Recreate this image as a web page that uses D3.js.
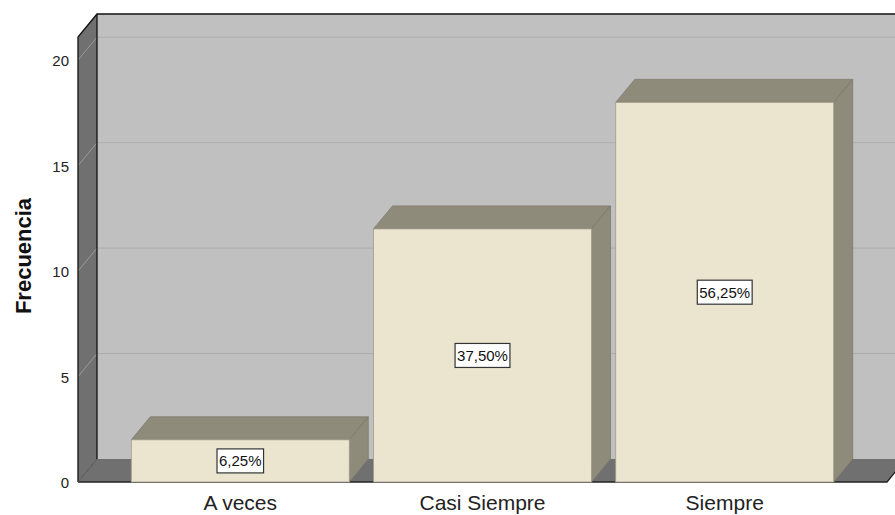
<!DOCTYPE html>
<meta charset="utf-8">
<script src="https://d3js.org/d3.v7.min.js"></script>
<style>
  body { margin: 0; background: #fff; }
  text { font-family: "Liberation Sans", Arial, sans-serif; }
</style>
<div id="chart_area"></div>
<script>
    // chart data
    let categories = ["A veces", "Casi Siempre", "Siempre"];
    let counts = [2, 12, 18];
    let percentLabels = ["6,25%", "37,50%", "56,25%"];
    let yTicks = [0, 5, 10, 15, 20];

    let width = 895, height = 515;
    // depth offset of the 3d box
    let dx = 19, dy = -23;
    let plotLeft = 78, plotRight = 887, plotBottom = 482, plotTop = 37;

    let svg = d3.select("#chart_area").append("svg")
        .attr("width", width)
        .attr("height", height);

    let x = d3.scaleBand()
        .domain(categories)
        .range([plotLeft, plotRight])
        .paddingInner(0.1)
        .paddingOuter(0.22);

    let y = d3.scaleLinear()
        .domain([0, 21.1])
        .range([plotBottom, plotTop]);

    let poly = pts => "M" + pts.map(p => p.join(",")).join("L") + "Z";

    // back wall
    svg.append("path")
        .attr("d", poly([[plotLeft + dx, plotTop + dy], [width + 20, plotTop + dy], [width + 20, plotBottom + dy], [plotLeft + dx, plotBottom + dy]]))
        .attr("fill", "#c0c0c0");

    // left side wall
    svg.append("path")
        .attr("d", poly([[plotLeft, plotTop], [plotLeft + dx, plotTop + dy], [plotLeft + dx, plotBottom + dy], [plotLeft, plotBottom]]))
        .attr("fill", "#707070");

    // floor
    svg.append("path")
        .attr("d", poly([[plotLeft, plotBottom], [plotLeft + dx, plotBottom + dy], [plotRight + dx, plotBottom + dy], [plotRight, plotBottom]]))
        .attr("fill", "#707070");

    // gridlines on back wall and side wall
    yTicks.filter(d => d > 0).forEach(t => {
        svg.append("line")
            .attr("x1", plotLeft + dx).attr("x2", width)
            .attr("y1", y(t) + dy).attr("y2", y(t) + dy)
            .attr("stroke", "#adadad").attr("stroke-width", 1);
        svg.append("line")
            .attr("x1", plotLeft).attr("x2", plotLeft + dx)
            .attr("y1", y(t)).attr("y2", y(t) + dy)
            .attr("stroke", "#9a9a9a").attr("stroke-width", 1);
    });

    // frame lines
    svg.append("path")
        .attr("d", "M" + plotLeft + "," + plotBottom + "L" + plotLeft + "," + plotTop + "L" + (plotLeft + dx) + "," + (plotTop + dy) + "L" + width + "," + (plotTop + dy))
        .attr("fill", "none").attr("stroke", "#111").attr("stroke-width", 1.3);
    svg.append("line")
        .attr("x1", plotLeft + dx).attr("x2", plotLeft + dx)
        .attr("y1", plotTop + dy).attr("y2", plotBottom + dy)
        .attr("stroke", "#111").attr("stroke-width", 1.3);
    svg.append("path")
        .attr("d", "M" + plotLeft + "," + plotBottom + "L" + plotRight + "," + plotBottom + "L" + (plotRight + dx) + "," + (plotBottom + dy))
        .attr("fill", "none").attr("stroke", "#222").attr("stroke-width", 1.3);
    svg.append("line")
        .attr("x1", plotLeft).attr("x2", plotLeft + dx)
        .attr("y1", plotBottom).attr("y2", plotBottom + dy)
        .attr("stroke", "#555").attr("stroke-width", 1);

    // bars
    categories.forEach((c, i) => {
        let x0 = x(c), x1 = x(c) + x.bandwidth(), yt = y(counts[i]);
        let g = svg.append("g");
        // top face
        g.append("path")
            .attr("d", poly([[x0, yt], [x0 + dx, yt + dy], [x1 + dx, yt + dy], [x1, yt]]))
            .attr("fill", "#8f8b7a").attr("stroke", "#7d7a6b").attr("stroke-width", 0.8);
        // side face
        g.append("path")
            .attr("d", poly([[x1, yt], [x1 + dx, yt + dy], [x1 + dx, plotBottom + dy], [x1, plotBottom]]))
            .attr("fill", "#8f8b7a").attr("stroke", "#7d7a6b").attr("stroke-width", 0.8);
        // front face
        g.append("rect")
            .attr("x", x0).attr("y", yt)
            .attr("width", x.bandwidth()).attr("height", plotBottom - yt)
            .attr("fill", "#ebe5d0").attr("stroke", "#a09c8c").attr("stroke-width", 0.8);

        // percentage label
        let cy = (yt + plotBottom) / 2;
        let lbl = g.append("text")
            .attr("x", x0 + x.bandwidth() / 2).attr("y", cy + 5.5)
            .attr("text-anchor", "middle")
            .style("font-size", "15px").attr("fill", "#111")
            .text(percentLabels[i]);
        let bb = lbl.node().getBBox();
        g.insert("rect", "text")
            .attr("x", bb.x - 2).attr("y", cy - 12)
            .attr("width", bb.width + 4).attr("height", 24)
            .attr("fill", "#fff").attr("stroke", "#333").attr("stroke-width", 1.2);

        // category label
        svg.append("text")
            .attr("x", x0 + x.bandwidth() / 2).attr("y", 510)
            .attr("text-anchor", "middle")
            .style("font-size", "21px").attr("fill", "#222")
            .text(c);
    });

    // y tick labels
    yTicks.forEach(t => {
        svg.append("text")
            .attr("x", 69).attr("y", y(t) + 6)
            .attr("text-anchor", "end")
            .style("font-size", "15px").attr("fill", "#222")
            .text(t);
    });

    // y axis title
    svg.append("text")
        .attr("transform", "translate(31,256) rotate(-90)")
        .attr("text-anchor", "middle")
        .style("font-size", "22px").style("font-weight", "bold").attr("fill", "#111")
        .text("Frecuencia");
</script>
</html>
